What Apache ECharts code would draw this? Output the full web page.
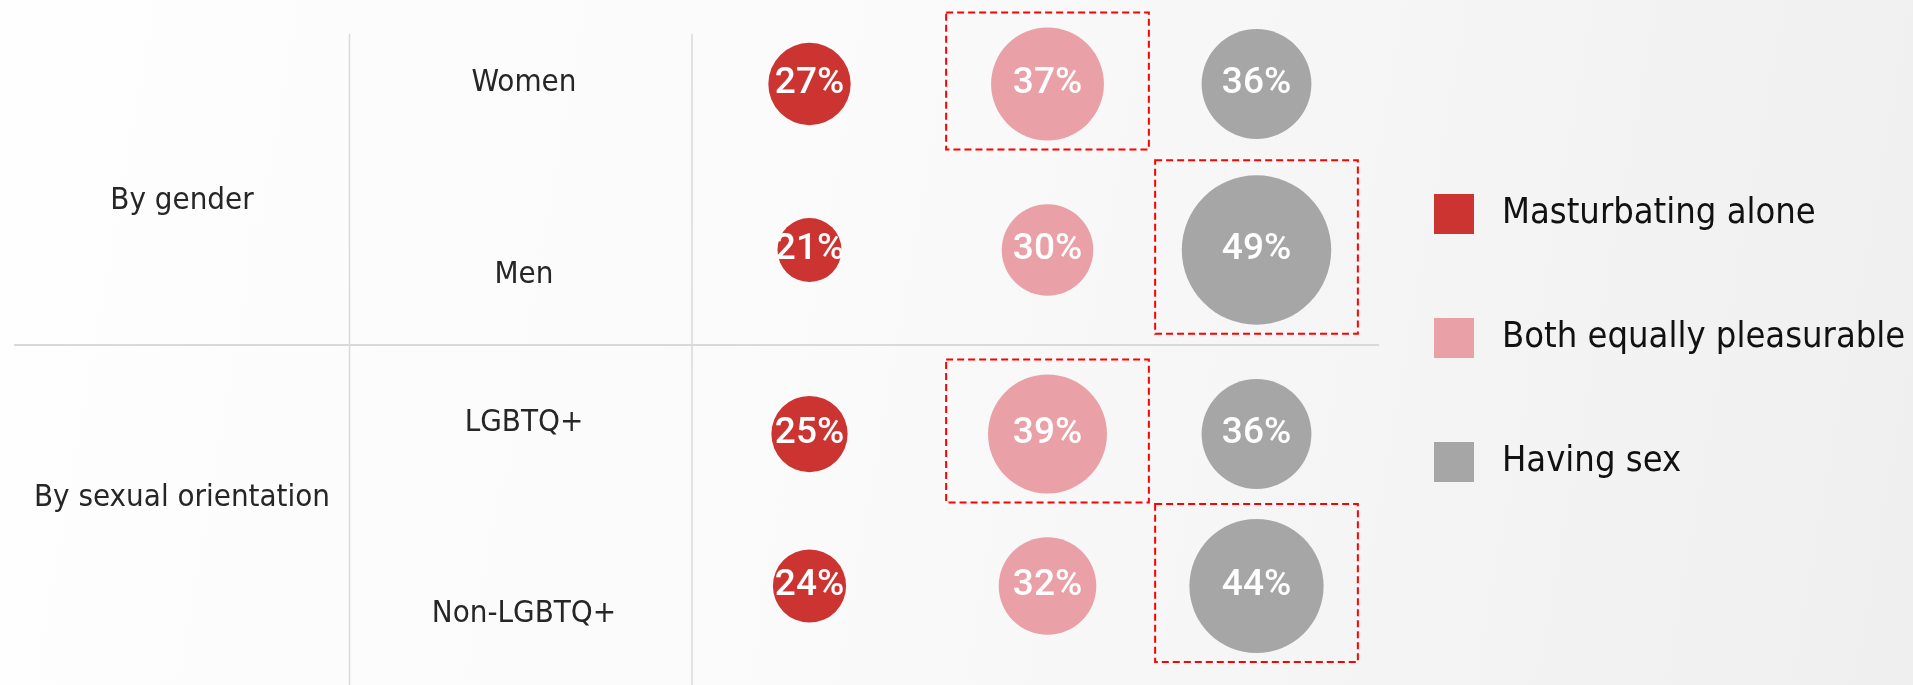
<!DOCTYPE html>
<html>
<head>
<meta charset="utf-8">
<title>Masturbating alone vs having sex</title>
<script src="https://cdn.jsdelivr.net/npm/echarts@6/dist/echarts.min.js"></script>
<style>
  html, body {
    margin: 0;
    padding: 0;
    background: linear-gradient(100deg, #fefefe 0%, #fafafa 45%, #efefef 100%);
  }
  #chart {
    width: 1913px;
    height: 685px;
  }
</style>
</head>
<body>
<div id="chart"></div>
<script>
// answers (columns) and the table rows
const responses = ['Masturbating alone', 'Both equally pleasurable', 'Having sex']
const groups = ['By gender', 'By sexual orientation']
const genderRows = ['Women', 'Men']
const orientationRows = ['LGBTQ+', 'Non-LGBTQ+']

// share of respondents, % (gender rows, then orientation rows)
const masturbatingAlone = [27, 21, 25, 24]
const bothEqually = [37, 30, 39, 32]
const havingSex = [36, 49, 36, 44]

const colors = ['#cb3431', '#e9a0a6', '#a6a6a6']
const sizeFactor = 3.05

const chart = echarts.init(document.getElementById('chart'))

// [column, row, value] points of one answer for one panel
function points(col, values, offset) {
  return [0, 1].map(function(r) {
    return [col, r, values[offset + r]]
  })
}

// the largest answer of each row gets the dashed box
function rowMax(offset) {
  const all = [masturbatingAlone, bothEqually, havingSex]
  return [0, 1].map(function(r) {
    let best = 0
    for (let c = 1; c < all.length; c++) {
      if (all[c][offset + r] > all[best][offset + r]) best = c
    }
    return [best, r, all[best][offset + r]]
  })
}

const textFont = '"DejaVu Sans Condensed", "DejaVu Sans", sans-serif'
const numberFont = 'Roboto, sans-serif'

// rows sit on the grid edges (boundaryGap off), so the grids stay inside the canvas
function labelAxis(gridIndex, data, size) {
  return {
    type: 'category',
    gridIndex: gridIndex,
    data: data,
    inverse: true,
    boundaryGap: false,
    axisLine: { show: false },
    axisTick: { show: false },
    splitLine: { show: false },
    axisLabel: {
      align: 'center',
      margin: 0,
      color: '#262626',
      fontFamily: textFont,
      fontSize: size
    }
  }
}

function hiddenValueAxis(gridIndex) {
  return { type: 'value', gridIndex: gridIndex, min: 0, max: 1, show: false }
}

function rowAxis(gridIndex, data) {
  return { type: 'category', gridIndex: gridIndex, data: data, inverse: true, boundaryGap: false, show: false }
}

function bubbleSeries(name, col, values, offset, gridIndex) {
  return {
    name: name,
    type: 'scatter',
    xAxisIndex: gridIndex,
    yAxisIndex: gridIndex,
    data: points(col, values, offset),
    symbol: 'circle',
    symbolSize: function(d) { return d[2] * sizeFactor },
    // the first column sits left of its cell centre
    symbolOffset: col === 0 ? [-29, 0] : [0, 0],
    itemStyle: { color: colors[col], opacity: 1 },
    label: {
      show: true,
      position: 'inside',
      color: '#ffffff',
      fontFamily: numberFont,
      fontWeight: 500,
      fontSize: 37,
      formatter: function(p) { return p.value[2] + '%' }
    },
    emphasis: { disabled: true },
    silent: true
  }
}

function boxSeries(offset, gridIndex) {
  return {
    type: 'custom',
    xAxisIndex: gridIndex,
    yAxisIndex: gridIndex,
    data: rowMax(offset),
    silent: true,
    z: 1,
    renderItem: function(params, api) {
      const c = api.coord([api.value(0), api.value(1)])
      const w = api.size([1, 0])[0] * 0.97
      const h = api.value(2) * sizeFactor + 24
      return {
        type: 'rect',
        shape: { x: c[0] - w / 2, y: c[1] - h / 2 - 3, width: w, height: h },
        style: { fill: 'none', stroke: '#ff0000', lineWidth: 2, lineDash: [7, 4] }
      }
    }
  }
}

const option = {
  backgroundColor: 'transparent',
  animation: false,
  grid: [
    // group labels
    { left: 182, width: 1, top: 201, height: 297 },
    // row labels
    { left: 524, width: 1, top: 83, height: 192 },
    { left: 524, width: 1, top: 423, height: 191 },
    // bubbles
    { left: 734, width: 627, top: 84, height: 166 },
    { left: 734, width: 627, top: 434, height: 152 }
  ],
  xAxis: [
    hiddenValueAxis(0),
    hiddenValueAxis(1),
    hiddenValueAxis(2),
    { type: 'category', gridIndex: 3, data: responses, show: false },
    { type: 'category', gridIndex: 4, data: responses, show: false }
  ],
  yAxis: [
    labelAxis(0, groups, 31),
    labelAxis(1, genderRows, 31),
    labelAxis(2, orientationRows, 31),
    rowAxis(3, genderRows),
    rowAxis(4, orientationRows)
  ],
  legend: {
    data: responses,
    orient: 'vertical',
    left: 1429,
    top: 189,
    itemWidth: 40,
    itemHeight: 40,
    itemGap: 84,
    icon: 'rect',
    selectedMode: false,
    textStyle: {
      color: '#111111',
      fontFamily: textFont,
      fontSize: 36,
      padding: [4, 0, 0, 23]
    }
  },
  graphic: [
    { type: 'line', silent: true, shape: { x1: 14, y1: 345, x2: 1379, y2: 345 }, style: { stroke: '#d9d9d9', lineWidth: 2 } },
    { type: 'line', silent: true, shape: { x1: 349.5, y1: 34, x2: 349.5, y2: 685 }, style: { stroke: '#d9d9d9', lineWidth: 1.5 } },
    { type: 'line', silent: true, shape: { x1: 692, y1: 34, x2: 692, y2: 685 }, style: { stroke: '#d9d9d9', lineWidth: 1.5 } }
  ],
  series: [
    bubbleSeries(responses[0], 0, masturbatingAlone, 0, 3),
    bubbleSeries(responses[0], 0, masturbatingAlone, 2, 4),
    bubbleSeries(responses[1], 1, bothEqually, 0, 3),
    bubbleSeries(responses[1], 1, bothEqually, 2, 4),
    bubbleSeries(responses[2], 2, havingSex, 0, 3),
    bubbleSeries(responses[2], 2, havingSex, 2, 4),
    boxSeries(0, 3),
    boxSeries(2, 4)
  ]
}

chart.setOption(option)
</script>
</body>
</html>
